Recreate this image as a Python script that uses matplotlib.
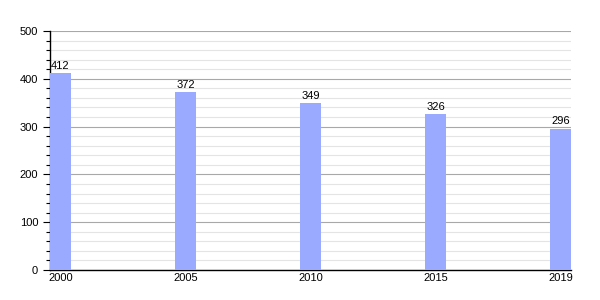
import matplotlib
matplotlib.use("Agg")
import matplotlib.pyplot as plt
from matplotlib.ticker import MultipleLocator

years = ["2000", "2005", "2010", "2015", "2019"]
values = [412, 372, 349, 326, 296]

plt.rcParams['font.family'] = ['Liberation Sans', 'DejaVu Sans']

fig = plt.figure(figsize=(6, 3), dpi=100)
ax = fig.add_axes([50/600, 30/300, 521/600, 239/300])

w = 0.168
x = list(range(len(years)))
bars = ax.bar(x, values, width=w, color="#99aaff", zorder=3)
for xi, v in zip(x, values):
    ax.text(xi, v + 5, str(v), ha="center", va="bottom", fontsize=8, color="black", zorder=4)

ax.set_xlim(-w/2, len(years) - 1 + w/2)
ax.set_ylim(0, 500)
ax.set_xticks(x)
ax.set_xticklabels(years, fontsize=8)
ax.yaxis.set_major_locator(MultipleLocator(100))
ax.yaxis.set_minor_locator(MultipleLocator(20))
ax.tick_params(axis='y', which='major', length=5, width=0.8, labelsize=8, direction='out')
ax.tick_params(axis='y', which='minor', length=3, width=0.8, direction='out')
ax.tick_params(axis='x', length=0, pad=2)

ax.grid(axis='y', which='major', color="#a8a8a8", linewidth=0.8, zorder=1)
ax.grid(axis='y', which='minor', color="#e4e4e4", linewidth=0.8, zorder=0)

for s in ["top", "right"]:
    ax.spines[s].set_visible(False)
ax.spines["left"].set_linewidth(1.0)
ax.spines["bottom"].set_linewidth(1.0)
ax.set_axisbelow(True)

fig.savefig("out.png", dpi=100)
